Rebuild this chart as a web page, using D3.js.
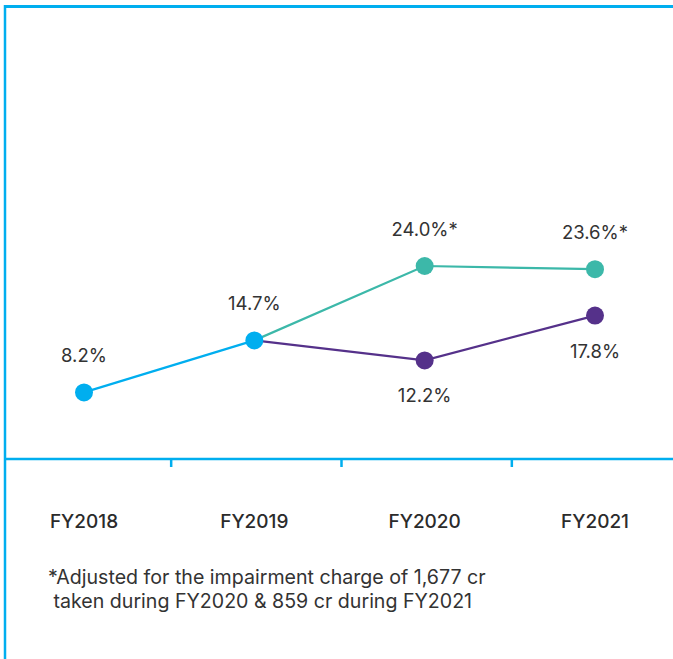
<!DOCTYPE html>
<html>
<head>
<meta charset="utf-8">
<script src="https://cdn.jsdelivr.net/npm/d3@7"></script>
<style>
  body { margin: 0; background: #fff; }
  svg { display: block; font-family: Inter, Roboto, "Noto Sans", sans-serif; }
</style>
</head>
<body>
<div id="chart1"></div>
<script>
'use strict';

// data
var years = ['FY2018', 'FY2019', 'FY2020', 'FY2021'];
var baseValues = [8.2, 14.7];            // shared history, FY2018-FY2019
var adjustedValues = [14.7, 24.0, 23.6]; // FY2019-FY2021, adjusted (*)
var reportedValues = [14.7, 12.2, 17.8]; // FY2019-FY2021, reported
var adjustedLabels = ['24.0%*', '23.6%*'];
var footnote = [
  '*Adjusted for the impairment charge of 1,677 cr',
  ' taken during FY2020 & 859 cr during FY2021'
];

var width = 673, height = 659;
var blue = '#00aeef', teal = '#3cb8a9', purple = '#55318a';

var svg = d3.select('#chart1').append('svg')
  .attr('width', width)
  .attr('height', height);

var x = d3.scalePoint()
  .domain(years)
  .range([84, 595]);

var y = d3.scaleLinear()
  .domain([0, 56.5])
  .range([458, 6]);

// frame
svg.append('line')
  .attr('x1', 4).attr('x2', width).attr('y1', 6.5).attr('y2', 6.5)
  .style('stroke', blue).style('stroke-width', 3);
svg.append('line')
  .attr('x1', 5).attr('x2', 5).attr('y1', 5).attr('y2', height)
  .style('stroke', blue).style('stroke-width', 2.5);

// x axis baseline and separators between categories
svg.append('line')
  .attr('x1', 4).attr('x2', width).attr('y1', y(0) + 1).attr('y2', y(0) + 1)
  .style('stroke', blue).style('stroke-width', 2.5);

var step = x.step();
svg.selectAll('line.sep')
  .data(years.slice(1))
  .enter().append('line')
  .attr('class', 'sep')
  .attr('x1', function(d) { return x(d) - step / 2 + 2; })
  .attr('x2', function(d) { return x(d) - step / 2 + 2; })
  .attr('y1', y(0) + 1)
  .attr('y2', y(0) + 9)
  .style('stroke', blue)
  .style('stroke-width', 2.5);

svg.selectAll('text.year')
  .data(years)
  .enter().append('text')
  .attr('class', 'year')
  .attr('x', function(d) { return x(d); })
  .attr('y', 528)
  .attr('text-anchor', 'middle')
  .style('font-size', '19px')
  .style('font-weight', 550)
  .style('fill', '#2b2b2b')
  .text(function(d) { return d; });

var line = d3.line()
  .x(function(d) { return x(d.year); })
  .y(function(d) { return y(d.value); });

var toPts = function(ys, vals) {
  return vals.map(function(v, i) { return { year: ys[i], value: v }; });
};

var basePts = toPts(years.slice(0, 2), baseValues);
var adjPts = toPts(years.slice(1), adjustedValues);
var repPts = toPts(years.slice(1), reportedValues);

var series = [
  { pts: adjPts, color: teal },
  { pts: repPts, color: purple },
  { pts: basePts, color: blue }
];

series.forEach(function(s) {
  svg.append('path')
    .datum(s.pts)
    .attr('d', line)
    .style('fill', 'none')
    .style('stroke', s.color)
    .style('stroke-width', 2.2);
});

series.forEach(function(s) {
  var pts = s.color === blue ? s.pts : s.pts.slice(1);
  svg.selectAll(null)
    .data(pts)
    .enter().append('circle')
    .attr('cx', function(d) { return x(d.year); })
    .attr('cy', function(d) { return y(d.value); })
    .attr('r', 9)
    .style('fill', s.color);
});

// value labels
var labelStyle = function(sel) {
  sel.attr('text-anchor', 'middle')
    .style('font-size', '18.5px')
    .style('fill', '#333');
};

svg.selectAll(null)
  .data(basePts)
  .enter().append('text')
  .attr('x', function(d) { return x(d.year); })
  .attr('y', function(d) { return y(d.value) - 30; })
  .call(labelStyle)
  .text(function(d) { return d.value.toFixed(1) + '%'; });

svg.selectAll(null)
  .data(adjPts.slice(1))
  .enter().append('text')
  .attr('x', function(d) { return x(d.year); })
  .attr('y', function(d) { return y(d.value) - 30; })
  .call(labelStyle)
  .text(function(d, i) { return adjustedLabels[i]; });

svg.selectAll(null)
  .data(repPts.slice(1))
  .enter().append('text')
  .attr('x', function(d) { return x(d.year); })
  .attr('y', function(d) { return y(d.value) + 42; })
  .call(labelStyle)
  .text(function(d) { return d.value.toFixed(1) + '%'; });

// footnote
svg.selectAll('text.note')
  .data(footnote)
  .enter().append('text')
  .attr('class', 'note')
  .attr('x', 48)
  .attr('y', function(d, i) { return 584 + i * 24; })
  .style('font-size', '19.6px')
  .style('fill', '#333')
  .attr('xml:space', 'preserve')
  .text(function(d) { return d; });
</script>
</body>
</html>
